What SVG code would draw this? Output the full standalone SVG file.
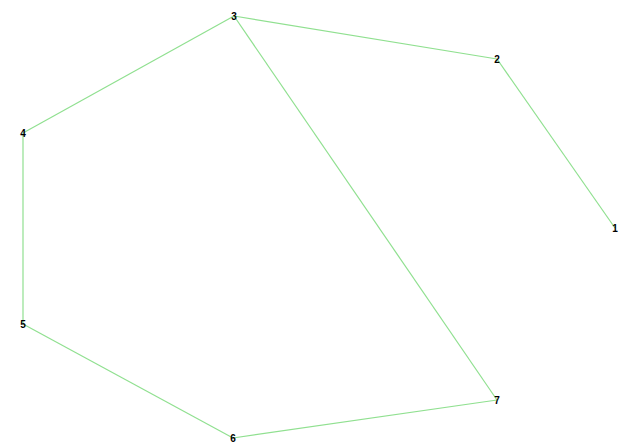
<svg xmlns="http://www.w3.org/2000/svg" width="620" height="445" viewBox="0 0 620 445">
<style>
.e{stroke:#90e090;stroke-width:1.2;fill:none}
.l{font-family:"Liberation Sans",Arial,sans-serif;font-size:10px;font-weight:bold;fill:#000;text-anchor:middle;dominant-baseline:central}
</style>
<rect width="620" height="445" fill="#fff"/>
<g id="edges">
<line class="e" x1="615" y1="228" x2="497" y2="59"/>
<line class="e" x1="497" y1="59" x2="234" y2="16"/>
<line class="e" x1="234" y1="16" x2="23" y2="133"/>
<line class="e" x1="23" y1="133" x2="23" y2="324"/>
<line class="e" x1="23" y1="324" x2="233" y2="438"/>
<line class="e" x1="233" y1="438" x2="497" y2="400"/>
<line class="e" x1="497" y1="400" x2="234" y2="16"/>
</g>
<g id="n1"><text class="l" x="615" y="228">1</text></g>
<g id="n2"><text class="l" x="497" y="59">2</text></g>
<g id="n3"><text class="l" x="234" y="16">3</text></g>
<g id="n4"><text class="l" x="23" y="133">4</text></g>
<g id="n5"><text class="l" x="23" y="324">5</text></g>
<g id="n6"><text class="l" x="233" y="438">6</text></g>
<g id="n7"><text class="l" x="497" y="400">7</text></g>
</svg>
